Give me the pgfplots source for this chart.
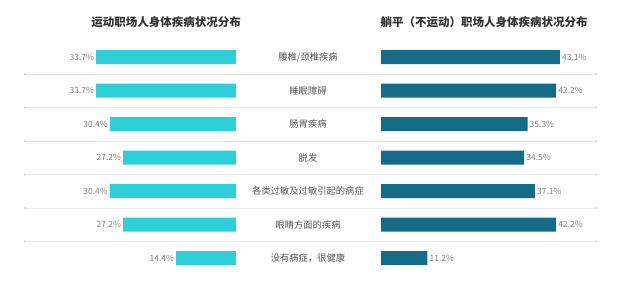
\documentclass[border=0pt]{standalone}
\usepackage{pgfplots}
\pgfplotsset{compat=1.18}
\usepackage{fontspec}
\setmainfont{Noto Sans CJK SC}
\definecolor{cyanbar}{HTML}{2ECFD9}
\definecolor{tealbar}{HTML}{146C88}
\definecolor{labgray}{HTML}{555555}
\definecolor{numgray}{HTML}{808080}
\begin{document}
\begin{tikzpicture}[x=1pt,y=1pt]
\path[use as bounding box] (0,0) rectangle (624,-281);
% separator lines
\foreach \yy in {74,107.5,141,174.5,208,241.5}{
  \draw[color=black!8, line width=0.7pt] (25,-\yy) -- (596,-\yy);
  \fill[black!18] (25,-\yy) circle (1.1);
  \fill[black!18] (596,-\yy) circle (1.1);
}
\node[font=\fontsize{11.5}{13}\selectfont\bfseries, text=black!80] at (166,-22) {运动职场人身体疾病状况分布};
\node[font=\fontsize{11.5}{13}\selectfont\bfseries, text=black!80] at (484,-22) {躺平（不运动）职场人身体疾病状况分布};
\begin{axis}[
  at={(25pt,-40.25pt)}, anchor=north west,
  width=211pt, height=234.5pt, scale only axis,
  xbar, bar width=14pt,
  x dir=reverse, y dir=reverse,
  xmin=0, xmax=50.84, ymin=-0.5, ymax=6.5,
  axis line style={draw=none}, xtick=\empty, ytick=\empty,
  nodes near coords={\pgfmathprintnumber[fixed,fixed zerofill,precision=1,assume math mode=true]{\pgfplotspointmeta}\%},
  every node near coord/.append style={anchor=east, font=\fontsize{8.5}{9}\selectfont, text=numgray, inner sep=2pt},
  clip=false,
]
\addplot[fill=cyanbar, draw=none] coordinates {(33.7,0) (33.7,1) (30.4,2) (27.2,3) (30.4,4) (27.2,5) (14.4,6)};
\end{axis}
\begin{axis}[
  at={(381pt,-40.25pt)}, anchor=north west,
  width=215pt, height=234.5pt, scale only axis,
  xbar, bar width=14pt,
  y dir=reverse,
  xmin=0, xmax=51.8, ymin=-0.5, ymax=6.5,
  axis line style={draw=none}, xtick=\empty,
  ytick={0,...,6},
  yticklabels={腰椎/颈椎疾病,睡眠障碍,肠胃疾病,脱发,各类过敏及过敏引起的病症,眼睛方面的疾病,{没有病症，很健康}},
  major tick length=0pt,
  yticklabel style={anchor=center, xshift=-73pt, font=\fontsize{9.3}{11}\selectfont, text=labgray},
  nodes near coords={\pgfmathprintnumber[fixed,fixed zerofill,precision=1,assume math mode=true]{\pgfplotspointmeta}\%},
  every node near coord/.append style={anchor=west, font=\fontsize{8.5}{9}\selectfont, text=numgray, inner sep=2pt},
  clip=false,
]
\addplot[fill=tealbar, draw=none] coordinates {(43.1,0) (42.2,1) (35.3,2) (34.5,3) (37.1,4) (42.2,5) (11.2,6)};
\end{axis}
\end{tikzpicture}
\end{document}
